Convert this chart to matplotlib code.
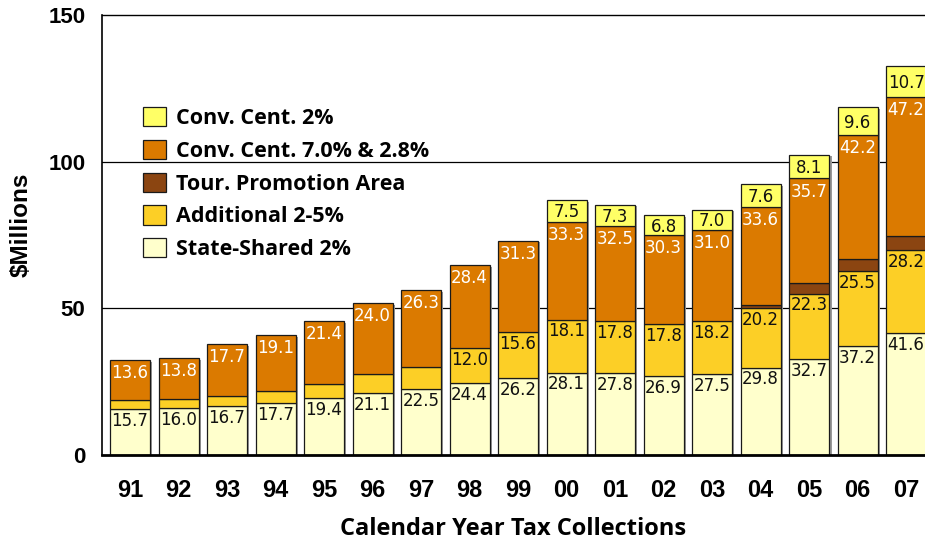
import matplotlib
matplotlib.use('Agg')
import matplotlib.pyplot as plt
import numpy as np

# - Data
years = ['91', '92', '93', '94', '95', '96', '97', '98', '99',
         '00', '01', '02', '03', '04', '05', '06', '07']
state_shared = [15.7, 16.0, 16.7, 17.7, 19.4, 21.1, 22.5, 24.4, 26.2,
                28.1, 27.8, 26.9, 27.5, 29.8, 32.7, 37.2, 41.6]
additional = [3.1, 3.2, 3.4, 4.0, 4.8, 6.6, 7.5, 12.0, 15.6,
              18.1, 17.8, 17.8, 18.2, 20.2, 22.3, 25.5, 28.2]
tour_promo = [0, 0, 0, 0, 0, 0, 0, 0, 0,
              0, 0, 0, 0, 1.1, 3.6, 4.1, 5.0]
conv_cent_7 = [13.6, 13.8, 17.7, 19.1, 21.4, 24.0, 26.3, 28.4, 31.3,
               33.3, 32.5, 30.3, 31.0, 33.6, 35.7, 42.2, 47.2]
conv_cent_2 = [0, 0, 0, 0, 0, 0, 0, 0, 0,
               7.5, 7.3, 6.8, 7.0, 7.6, 8.1, 9.6, 10.7]

# which segments carry a value label
show_additional = [False] * 7 + [True] * 10

series = [
    ('State-Shared 2%', state_shared, '#FFFFCC'),
    ('Additional 2-5%', additional, '#FCCF26'),
    ('Tour. Promotion Area', tour_promo, '#8B4511'),
    ('Conv. Cent. 7.0% & 2.8%', conv_cent_7, '#DB7A00'),
    ('Conv. Cent. 2%', conv_cent_2, '#FFFF66'),
]

fig = plt.figure(figsize=(9.25, 5.43), dpi=100)
ax = fig.add_axes([0.1103, 0.162, 0.8897, 0.8103])

x = np.arange(len(years))
width = 0.825
totals = np.sum([s[1] for s in series], axis=0)

# - Shadow behind bars
ax.bar(x + 0.05, totals, width, bottom=-0.6, color='#9a9a9a', zorder=1.5, linewidth=0)

bottom = np.zeros(len(years))
handles = {}
for name, vals, color in series:
    vals = np.array(vals, dtype=float)
    mask = vals > 0
    bars = ax.bar(x[mask], vals[mask], width, bottom=bottom[mask], color=color,
                  edgecolor='#1a1a1a', linewidth=0.9, zorder=2, label=name)
    handles[name] = bars
    bottom = bottom + vals

# - Value labels
lab = {'fontsize': 12, 'ha': 'center', 'zorder': 4, 'family': 'DejaVu Sans', 'clip_on': True}
for i in range(len(years)):
    top_state = state_shared[i]
    ax.text(x[i], top_state - 0.9, f'{state_shared[i]:.1f}', va='top', color='#111111', **lab)
    top_add = top_state + additional[i]
    if show_additional[i]:
        ax.text(x[i], top_add - 0.9, f'{additional[i]:.1f}', va='top', color='#111111', **lab)
    top_conv = top_add + tour_promo[i] + conv_cent_7[i]
    ax.text(x[i], top_conv - 1.4, f'{conv_cent_7[i]:.1f}', va='top', color='white', **lab)
    if conv_cent_2[i] > 0:
        ax.text(x[i], top_conv + conv_cent_2[i] / 2 - 0.5, f'{conv_cent_2[i]:.1f}',
                va='center', color='#111111', **lab)

# - Axes styling
ax.set_xlim(-0.577, 16.39)
ax.set_ylim(0, 150)
ax.set_yticks([0, 50, 100, 150])
ax.set_xticks(x)
ax.set_xticklabels(years)
for lbl in ax.get_yticklabels():
    lbl.set_fontfamily('Liberation Sans')
    lbl.set_fontweight('bold')
    lbl.set_fontsize(16)
for lbl in ax.get_xticklabels():
    lbl.set_fontfamily('Liberation Sans')
    lbl.set_fontweight('bold')
    lbl.set_fontsize(17)
ax.tick_params(axis='both', length=0)
ax.tick_params(axis='y', pad=12)
ax.tick_params(axis='x', pad=17)
for yv in [50, 100]:
    ax.axhline(yv, color='black', linewidth=0.9, zorder=1)
ax.spines['right'].set_visible(False)
ax.spines['top'].set_linewidth(1.0)
ax.spines['left'].set_linewidth(1.2)
ax.spines['bottom'].set_linewidth(2.0)

ax.set_ylabel('$Millions', fontfamily='Liberation Sans', fontweight='bold', fontsize=17.5)
ax.yaxis.set_label_coords(-0.084, 0.523)
ax.set_xlabel('Calendar Year Tax Collections', fontfamily='Open Sans', fontweight='bold',
              fontsize=17, labelpad=11)

order = ['Conv. Cent. 2%', 'Conv. Cent. 7.0% & 2.8%', 'Tour. Promotion Area',
         'Additional 2-5%', 'State-Shared 2%']
leg = ax.legend([handles[n] for n in order], order, loc='upper left',
                bbox_to_anchor=(0.1336, 0.8387), bbox_transform=fig.transFigure,
                frameon=False, handlelength=1.05, handleheight=1.0,
                labelspacing=0.5, handletextpad=0.5,
                prop={'family': 'Open Sans', 'weight': 'bold', 'size': 15.5})

plt.savefig('out.png', dpi=100)
plt.close()
